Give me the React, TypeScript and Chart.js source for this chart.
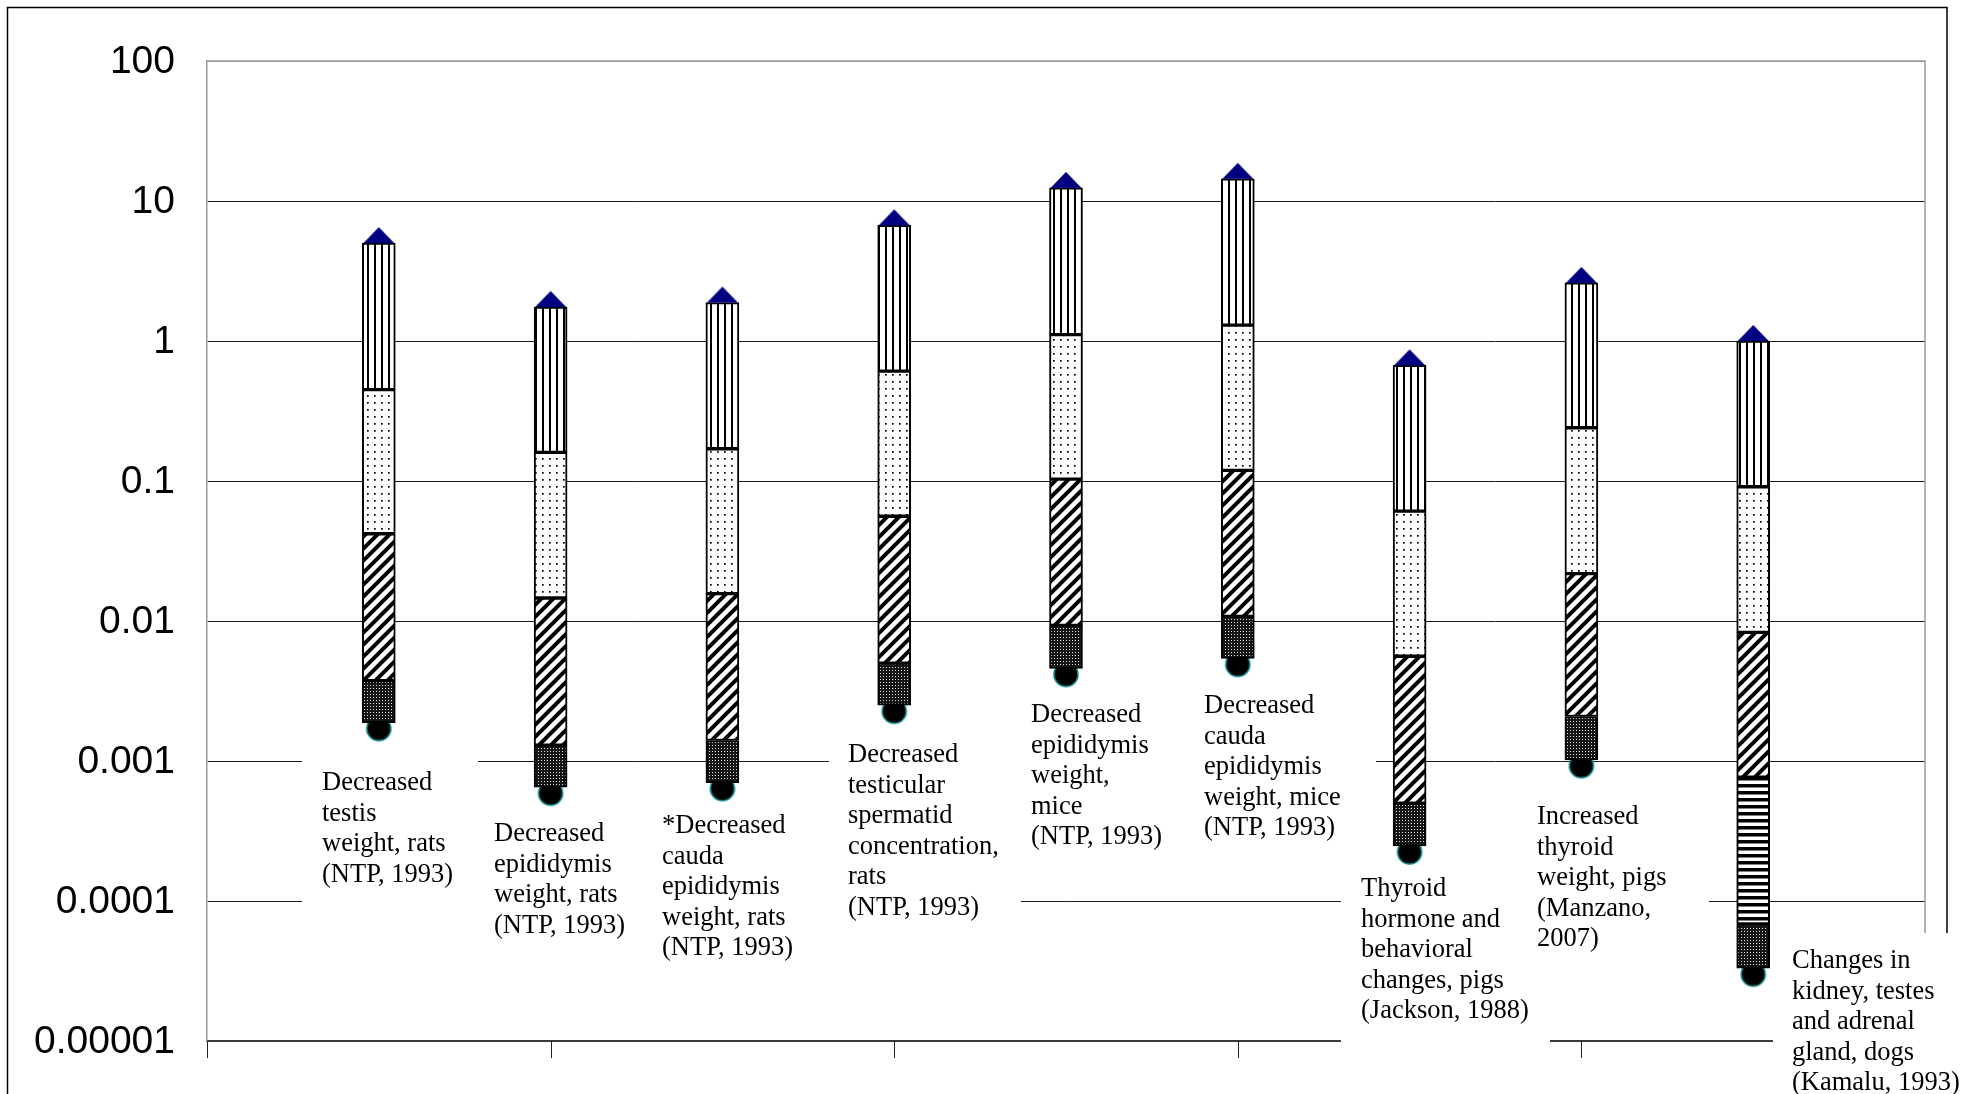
import React, { useEffect, useRef } from "react";
import { Chart, registerables } from "chart.js";

Chart.register(...registerables);

// ---- data ----
const columnPositions = [1, 2, 3, 4, 5, 6, 7, 8, 9];
// top of the vertical-line segment (triangle marker)
const topValues = [5.0, 1.75, 1.88, 6.7, 12.4, 14.4, 0.67, 2.6, 1.0];
// boundary vertical-lines / dotted
const verticalBottom = [0.45, 0.16, 0.17, 0.61, 1.11, 1.3, 0.061, 0.24, 0.091];
// boundary dotted / diagonal
const dottedBottom = [0.042, 0.0146, 0.0157, 0.056, 0.103, 0.119, 0.0056, 0.0218, 0.0083];
// boundary diagonal / next segment
const diagonalBottom = [0.00375, 0.0013, 0.0014, 0.005, 0.0093, 0.0108, 0.0005, 0.00208, 0.000765];
// boundary horizontal stripes / dense (only last column)
const stripeBottom: (number | null)[] = [null, null, null, null, null, null, null, null, 0.0000685];
// bottom of bar (circle marker)
const bottomValues = [0.00188, 0.00065, 0.0007, 0.0025, 0.00458, 0.0054, 0.000247, 0.00102, 0.0000331];

const yTickValues = [100, 10, 1, 0.1, 0.01, 0.001, 0.0001, 0.00001];
const yTickLabels = ["100", "10", "1", "0.1", "0.01", "0.001", "0.0001", "0.00001"];
const xTickValues = [0, 2, 4, 6, 8, 10];

const labelLines: string[][] = [
  ["Decreased", "testis", "weight, rats", "(NTP, 1993)"],
  ["Decreased", "epididymis", "weight, rats", "(NTP, 1993)"],
  ["*Decreased", "cauda", "epididymis", "weight, rats", "(NTP, 1993)"],
  ["Decreased", "testicular", "spermatid", "concentration,", "rats", "(NTP, 1993)"],
  ["Decreased", "epididymis", "weight,", "mice", "(NTP, 1993)"],
  ["Decreased", "cauda", "epididymis", "weight, mice", "(NTP, 1993)"],
  ["Thyroid", "hormone and", "behavioral", "changes, pigs", "(Jackson, 1988)"],
  ["Increased", "thyroid", "weight, pigs", "(Manzano,", "2007)"],
  ["Changes in", "kidney, testes", "and adrenal", "gland, dogs", "(Kamalu, 1993)"],
];

// ---- layout (annotation text boxes, pixels) ----
const labelText = [
  { x: 322, y: 783 },
  { x: 494, y: 834 },
  { x: 662, y: 826 },
  { x: 848, y: 755 },
  { x: 1031, y: 715 },
  { x: 1204, y: 706 },
  { x: 1361, y: 889 },
  { x: 1537, y: 817 },
  { x: 1792, y: 961 },
];
const labelBoxes = [
  [302, 748, 176, 170],
  [474, 808, 171, 150],
  [645, 805, 184, 170],
  [829, 738, 192, 190],
  [1012, 696, 175, 160],
  [1185, 688, 191, 160],
  [1341, 868, 209, 190],
  [1520, 795, 189, 160],
  [1773, 933, 206, 161],
];
const LINE_H = 30.6;

function tile(w: number, h: number, draw: (g: CanvasRenderingContext2D) => void) {
  const c = document.createElement("canvas");
  c.width = w;
  c.height = h;
  const g = c.getContext("2d")!;
  draw(g);
  return c;
}

export default function App() {
  const ref = useRef<HTMLCanvasElement | null>(null);

  useEffect(() => {
    const canvas = ref.current!;
    const ctx = canvas.getContext("2d")!;

    const verticalPat = ctx.createPattern(
      tile(7, 8, (g) => {
        g.fillStyle = "#fff";
        g.fillRect(0, 0, 7, 8);
        g.fillStyle = "#000";
        g.fillRect(3, 0, 2, 8);
      }),
      "repeat"
    )!;
    const dottedPat = ctx.createPattern(
      tile(7, 7, (g) => {
        g.fillStyle = "#fff";
        g.fillRect(0, 0, 7, 7);
        g.fillStyle = "#000";
        g.fillRect(3, 3, 1.7, 1.7);
      }),
      "repeat"
    )!;
    const diagPat = ctx.createPattern(
      tile(12, 12, (g) => {
        const s = 12;
        g.fillStyle = "#fff";
        g.fillRect(0, 0, s, s);
        g.strokeStyle = "#000";
        g.lineWidth = 4;
        g.beginPath();
        g.moveTo(0, s);
        g.lineTo(s, 0);
        g.moveTo(-s / 2, s / 2);
        g.lineTo(s / 2, -s / 2);
        g.moveTo(s / 2, (3 * s) / 2);
        g.lineTo((3 * s) / 2, s / 2);
        g.stroke();
      }),
      "repeat"
    )!;
    const densePat = ctx.createPattern(
      tile(3, 3, (g) => {
        g.fillStyle = "#151515";
        g.fillRect(0, 0, 3, 3);
        g.fillStyle = "#e0e0e0";
        g.fillRect(1, 1, 1, 1);
      }),
      "repeat"
    )!;
    const stripePat = ctx.createPattern(
      tile(4, 7, (g) => {
        g.fillStyle = "#fff";
        g.fillRect(0, 0, 4, 7);
        g.fillStyle = "#000";
        g.fillRect(0, 0, 4, 3.5);
      }),
      "repeat"
    )!;

    const triangle = tile(32, 34, (g) => {
      g.fillStyle = "#000080";
      g.beginPath();
      g.moveTo(16, 1);
      g.lineTo(31.5, 17);
      g.lineTo(0.5, 17);
      g.closePath();
      g.fill();
    });
    const circle = tile(28, 40, (g) => {
      g.fillStyle = "#000";
      g.strokeStyle = "#0a8a8a";
      g.lineWidth = 1.6;
      g.beginPath();
      g.arc(14, 26, 12, 0, Math.PI * 2);
      g.fill();
      g.stroke();
    });

    const seg = (lo: (number | null)[], hi: (number | null)[]) =>
      columnPositions
        .map((x, i) => (lo[i] == null || hi[i] == null ? null : { x, y: [lo[i], hi[i]] }))
        .filter((d) => d !== null);

    const denseTop = columnPositions.map((_, i) => (stripeBottom[i] != null ? stripeBottom[i] : diagonalBottom[i]));

    const barCommon = {
      type: "bar" as const,
      borderColor: "#000",
      borderWidth: 2,
      borderSkipped: false,
      barThickness: 33,
      grouped: false,
      order: 5,
    };

    const framePlugin = {
      id: "frame",
      beforeDatasetsDraw(chart: any) {
        const c = chart.ctx;
        const a = chart.chartArea;
        const xs = chart.scales.x;
        c.save();
        // outer frame
        c.strokeStyle = "#000";
        c.lineWidth = 1.5;
        c.beginPath();
        c.moveTo(7.5, 1094);
        c.lineTo(7.5, 7.5);
        c.lineTo(1947, 7.5);
        c.lineTo(1947, 1094);
        c.stroke();
        // plot area top / right border
        c.strokeStyle = "#9a9a9a";
        c.lineWidth = 1.5;
        c.beginPath();
        c.moveTo(a.left, a.top);
        c.lineTo(a.right, a.top);
        c.lineTo(a.right, a.bottom);
        c.stroke();
        // x tick marks
        c.strokeStyle = "#222";
        c.lineWidth = 1;
        c.beginPath();
        xTickValues.forEach((v) => {
          const px = Math.round(xs.getPixelForValue(v)) + 0.5;
          c.moveTo(px, a.bottom);
          c.lineTo(px, a.bottom + 17);
        });
        c.stroke();
        // white label boxes
        c.fillStyle = "#fff";
        labelBoxes.forEach(([x, y, w, h]) => c.fillRect(x, y, w, h));
        c.restore();
      },
      afterDatasetsDraw(chart: any) {
        const c = chart.ctx;
        const ys = chart.scales.y;
        c.save();
        c.fillStyle = "#000";
        c.font = '26.5px "Liberation Serif", "Times New Roman", serif';
        c.textAlign = "left";
        c.textBaseline = "middle";
        labelLines.forEach((lines, i) => {
          lines.forEach((t, j) => c.fillText(t, labelText[i].x, labelText[i].y + j * LINE_H));
        });
        c.font = '39px "Liberation Sans", Arial, sans-serif';
        c.textAlign = "right";
        yTickValues.forEach((v, i) => {
          c.fillText(yTickLabels[i], 175, ys.getPixelForValue(v) + 1);
        });
        c.restore();
      },
    };

    const chart = new Chart(canvas, {
      type: "bar",
      data: {
        datasets: [
          {
            ...barCommon,
            data: seg(bottomValues, denseTop),
            backgroundColor: densePat,
          },
          {
            ...barCommon,
            data: seg(stripeBottom, diagonalBottom),
            backgroundColor: stripePat,
          },
          {
            ...barCommon,
            data: seg(diagonalBottom, dottedBottom),
            backgroundColor: diagPat,
          },
          {
            ...barCommon,
            data: seg(dottedBottom, verticalBottom),
            backgroundColor: dottedPat,
          },
          {
            ...barCommon,
            data: seg(verticalBottom, topValues),
            backgroundColor: verticalPat,
          },
          {
            type: "scatter",
            data: columnPositions.map((x, i) => ({ x, y: topValues[i] })),
            pointStyle: triangle,
            pointRadius: 12,
            showLine: false,
            order: 0,
          },
          {
            type: "scatter",
            data: columnPositions.map((x, i) => ({ x, y: bottomValues[i] })),
            pointStyle: circle,
            pointRadius: 12,
            showLine: false,
            order: 10,
          },
        ] as any,
      },
      options: {
        responsive: false,
        devicePixelRatio: 1,
        animation: false,
        layout: { padding: { left: 207, top: 61, right: 54, bottom: 53 } },
        plugins: { legend: { display: false }, tooltip: { enabled: false } },
        scales: {
          x: {
            type: "linear",
            min: 0,
            max: 10,
            offset: false,
            ticks: { display: false },
            grid: { display: false, drawTicks: false },
            border: { display: true, color: "#3a3a3a", width: 2 },
            afterFit: (s: any) => {
              s.height = 0;
            },
          },
          y: {
            type: "logarithmic",
            min: 0.00001,
            max: 100,
            ticks: { display: false },
            afterBuildTicks: (s: any) => {
              s.ticks = yTickValues.map((v) => ({ value: v }));
            },
            grid: {
              drawTicks: false,
              lineWidth: 1,
              color: (c: any) => (c.tick && c.tick.value === 100 ? "#9a9a9a" : "#1a1a1a"),
            },
            border: { display: true, color: "#9a9a9a", width: 1.5 },
            afterFit: (s: any) => {
              s.width = 0;
            },
          },
        } as any,
      },
      plugins: [framePlugin],
    });

    return () => chart.destroy();
  }, []);

  return (
    <div style={{ position: "fixed", left: 0, top: 0, width: 1979, height: 1094, background: "#fff" }}>
      <canvas ref={ref} width={1979} height={1094} style={{ display: "block" }} />
    </div>
  );
}
